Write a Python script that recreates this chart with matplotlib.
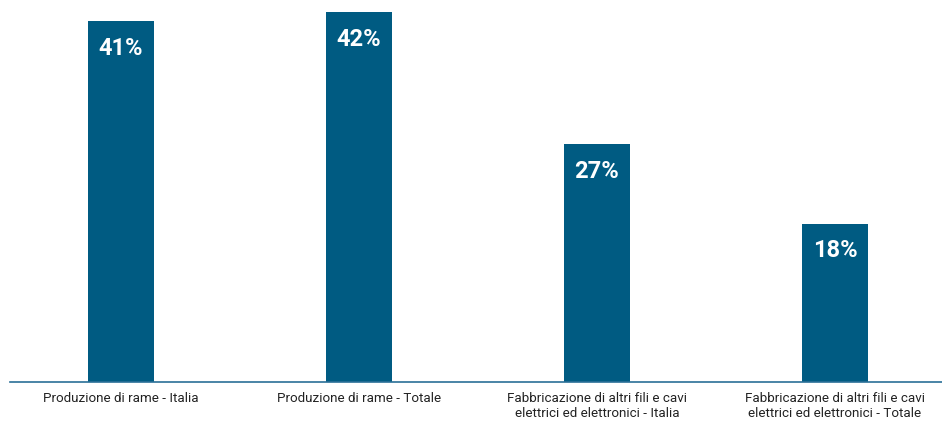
import matplotlib.pyplot as plt
from matplotlib import transforms

categories = [
    'Produzione di rame - Italia',
    'Produzione di rame - Totale',
    'Fabbricazione di altri fili e cavi\nelettrici ed elettronici - Italia',
    'Fabbricazione di altri fili e cavi\nelettrici ed elettronici - Totale',
]
values = [41, 42, 27, 18]

BAR = '#005b82'

plt.rcParams['font.family'] = ['Roboto', 'DejaVu Sans']

fig = plt.figure(figsize=(9.42, 4.21), dpi=100)
ax = fig.add_axes([10 / 942, 39 / 421, 932 / 942, 382 / 421])

x = list(range(len(values)))
ax.bar(x, values, width=0.28, color=BAR)

ax.set_xlim(-0.466, 3.45)
ax.set_ylim(0, 43.4)

# value labels inside the top of each bar
off = transforms.offset_copy(ax.transData, fig=fig, x=0, y=-27, units='dots')
for xi, v in zip(x, values):
    ax.text(xi, v, f'{v}%', transform=off, ha='center', va='center',
            color='white', fontsize=17, fontweight='bold')

for s in ['top', 'right', 'left']:
    ax.spines[s].set_visible(False)
ax.spines['bottom'].set_color('#2a6f97')
ax.spines['bottom'].set_linewidth(1.2)

ax.set_yticks([])
ax.set_xticks(x)
ax.set_xticklabels(categories, fontsize=9.6, color='#222222', linespacing=1.2, va='top')
ax.tick_params(axis='x', length=0, pad=7)

fig.savefig('out.png', dpi=100)
